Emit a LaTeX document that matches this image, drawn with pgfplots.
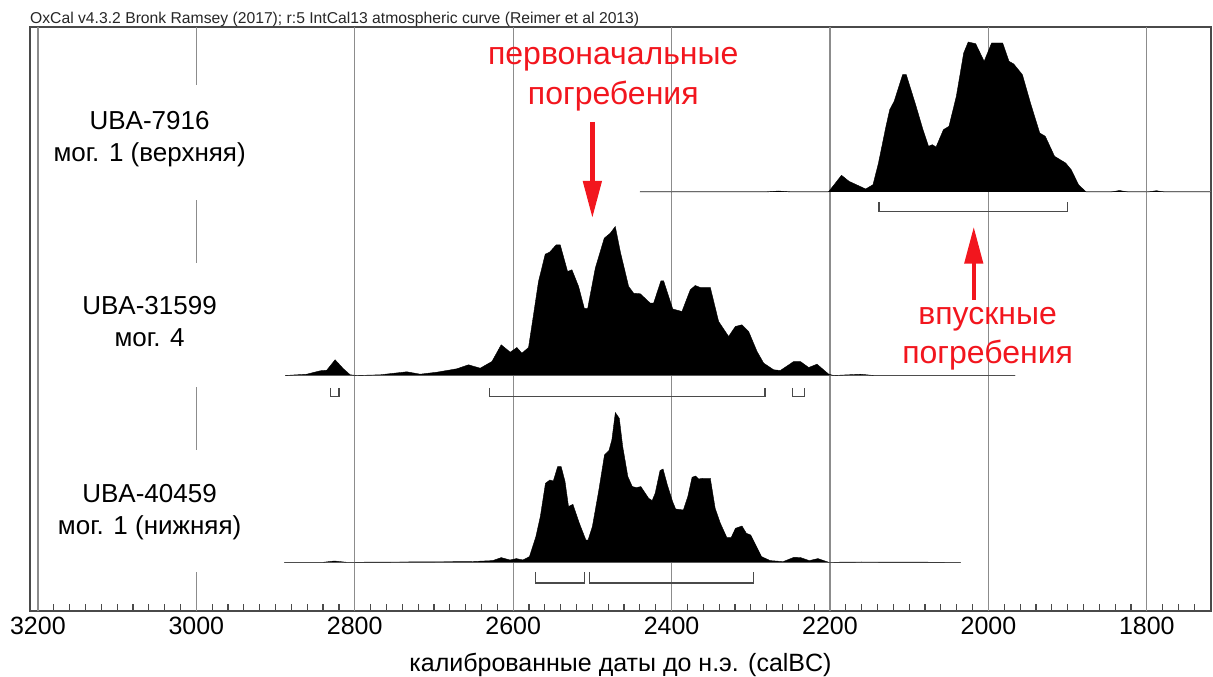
\documentclass[border=0pt]{standalone}
\usepackage{fontspec}
\setmainfont{Liberation Sans}
\usepackage{pgfplots}
\pgfplotsset{compat=1.18}
\usepackage{pgfplotstable}
\usetikzlibrary{arrows.meta}
\definecolor{gridc}{HTML}{8C8C8C}
\definecolor{framec}{HTML}{4A4A4A}
\definecolor{redc}{HTML}{F2161E}
\newcommand\fs[1]{\fontsize{#1}{#1}\selectfont}

% UBA-7916 (height above baseline, px units)
\pgfplotstableread{
yr h
2440 0
2280 0
2265 1
2250 0
2202 0
2185.5 16.7
2176 10.7
2155 3
2145.7 7.3
2138.8 29
2129.3 65.7
2124.6 82.3
2119 90.7
2108.3 117.3
2103.7 117.3
2091.9 87.3
2082.6 62.3
2075.6 45.7
2070.8 47.3
2066.1 45
2056.8 62.3
2049.8 65.7
2040.5 95.7
2031.2 139
2025.5 150
2016.1 148.3
2005.4 130.7
1996 149
1982 149
1974 130.7
1968 128
1957.1 117.3
1946.9 89
1935.2 59
1928.2 55.7
1916.5 35.7
1902.5 29
1895.5 22.3
1886.2 7.3
1876.7 0
1845 0
1834.6 1.5
1824 0
1798 0
1788 1.3
1778 0
1719 0
}\rowA

% UBA-31599
\pgfplotstableread{
yr h
2887.9 0
2860.5 1.3
2843.7 4.7
2835.3 5.3
2824.8 15.7
2814.3 6.7
2805.8 0.7
2797.4 0
2767.9 0.7
2734.2 3.7
2717.4 1.3
2696.3 3.3
2671.1 6.7
2656.4 10.7
2641.6 7.3
2626.8 14
2615.1 30.7
2603.7 23.3
2595.3 28
2589 22.3
2580.6 28
2574.3 60.7
2568 94
2559.5 121.3
2554 123.3
2545.6 130.7
2540.6 130.7
2531.3 104
2525.8 105.7
2517.4 89
2510.2 67.3
2506 66.7
2496.3 107.3
2485 137.3
2477.4 142.3
2471.1 149
2464.8 124
2454.2 89
2447.9 82.3
2439.5 81.7
2426.9 72.3
2422.7 72.3
2413.4 94.7
2410.1 94.7
2398.5 66.5
2386.9 64
2376.4 85.7
2370.1 90
2363.7 88
2351.1 88
2340.6 54
2328 39
2319.5 49
2311.1 50.7
2302.7 44
2292.1 24
2283.7 12.3
2271.1 5.7
2262.7 5
2245.8 14
2237.4 14
2226.9 8
2216.4 11.3
2201.6 1.3
2195.3 0
2161.6 1.3
2144.8 0
1966 0
}\rowB

% UBA-40459
\pgfplotstableread{
yr h
2888.8 0
2840 0
2825.8 1.3
2810 0
2653.4 0.7
2625.9 1.7
2615 4.7
2604 2.3
2595.9 3.7
2587.7 2.3
2579.4 5.7
2571.3 25.7
2565.7 45.7
2559.2 79
2553.7 82.3
2549.3 81.3
2543.8 95.7
2539.4 95.7
2534.5 80.7
2530.1 55.7
2524.6 58
2516.4 39
2508.2 22.3
2505.4 22.3
2500 35.7
2491.8 72.3
2484.7 107.3
2479.1 111.7
2475.4 122.3
2471 149.7
2466 144
2461.7 115.7
2455.2 85.7
2449.6 75.7
2444.2 74.7
2438.8 75.7
2428.9 64
2424.5 61.7
2420.7 69
2414.6 91.7
2410.8 93.3
2405.3 77.3
2398.7 60.7
2394.9 53.3
2385.1 52.3
2379.5 65.7
2374.1 85
2369.7 86.3
2365.9 83.3
2360.4 84
2351.1 84
2345 54
2338.4 39
2330.2 24.7
2324.8 24.7
2319.3 34
2311.1 36.3
2305.6 29
2300.1 27.3
2286.5 5.7
2275.5 1.7
2259.1 0.7
2245.5 5
2237.1 4.7
2226.2 1.7
2215.2 3.7
2201.6 0
2160.6 0.3
2035 0
}\rowC

\begin{document}
\begin{tikzpicture}
\path[use as bounding box] (-30pt,-66pt) rectangle (1183pt,611pt);
\begin{axis}[
  scale only axis, width=1181pt, height=584pt,
  x dir=reverse, xmin=1719, xmax=3210, ymin=0, ymax=584,
  ytick=\empty,
  xtick={1800,2000,...,3200},
  minor xtick={1720,1740,...,3200},
  xtick pos=left,
  tick align=inside,
  major tick length=13pt, minor tick length=7pt,
  tick style={framec, line width=1.2pt},
  axis line style={framec, line width=1.6pt},
  xticklabel style={font=\fs{25}, anchor=base, yshift=-24pt, inner sep=0pt},
  /pgf/number format/assume math mode=true,
  /pgf/number format/1000 sep={},
  clip=false,
]
% vertical grid lines
\draw[gridc, line width=1.2pt] (axis cs:1800,0) -- (axis cs:1800,584);
\draw[gridc, line width=1.2pt] (axis cs:2000,0) -- (axis cs:2000,584);
\draw[gridc, line width=1.2pt] (axis cs:2200,0) -- (axis cs:2200,584);
\draw[gridc, line width=1.2pt] (axis cs:2400,0) -- (axis cs:2400,584);
\draw[gridc, line width=1.2pt] (axis cs:2600,0) -- (axis cs:2600,584);
\draw[gridc, line width=1.2pt] (axis cs:2800,0) -- (axis cs:2800,584);
\draw[gridc, line width=1.2pt] (axis cs:3200,0) -- (axis cs:3200,584);
\draw[gridc, line width=1.2pt] (axis cs:3000,526) -- (axis cs:3000,584)
  (axis cs:3000,348) -- (axis cs:3000,411)
  (axis cs:3000,161) -- (axis cs:3000,224)
  (axis cs:3000,0) -- (axis cs:3000,39);

% baselines
\addplot[gridc, line width=1pt] coordinates {(2440,419) (1719,419)};
\addplot[gridc, line width=1pt] coordinates {(2888,235.5) (1966,235.5)};
\addplot[gridc, line width=1pt] coordinates {(2889,48.7) (2035,48.7)};

% distributions
\addplot[fill=black, draw=black, line width=0.4pt] table[x=yr, y expr=\thisrow{h}+419] {\rowA};
\addplot[fill=black, draw=black, line width=0.4pt] table[x=yr, y expr=\thisrow{h}+235.5] {\rowB};
\addplot[fill=black, draw=black, line width=0.4pt] table[x=yr, y expr=\thisrow{h}+48.7] {\rowC};

% ranges
\addplot[framec, line width=1.3pt] coordinates {(2138,408.5) (2138,399.2) (1900,399.2) (1900,408.5)};
\addplot[framec, line width=1.3pt] coordinates {(2630,223) (2630,214.3) (2282,214.3) (2282,223)};
\addplot[framec, line width=1.3pt] coordinates {(2831,223) (2831,214.3) (2820,214.3) (2820,223)};
\addplot[framec, line width=1.3pt] coordinates {(2247.5,223) (2247.5,214.3) (2232,214.3) (2232,223)};
\addplot[framec, line width=1.3pt] coordinates {(2572,39) (2572,28) (2510,28) (2510,39)};
\addplot[framec, line width=1.3pt] coordinates {(2504,39) (2504,28) (2297,28) (2297,39)};

% row labels
\node[font=\fs{26}, anchor=base] at (axis cs:3059,481) {UBA-7916};
\node[font=\fs{26}, anchor=base] at (axis cs:3059,449.3) {мог. 1 (верхняя)};
\node[font=\fs{26}, anchor=base] at (axis cs:3059,296) {UBA-31599};
\node[font=\fs{26}, anchor=base] at (axis cs:3059,264.3) {мог. 4};
\node[font=\fs{26}, anchor=base] at (axis cs:3059,108) {UBA-40459};
\node[font=\fs{26}, anchor=base] at (axis cs:3059,76.3) {мог. 1 (нижняя)};

% red annotations
\node[font=\fs{32}, text=redc, anchor=base] at (axis cs:2473.6,546) {первоначальные};
\node[font=\fs{32}, text=redc, anchor=base] at (axis cs:2473.6,506) {погребения};
\draw[redc, line width=4.5pt, -{Triangle[length=37pt,width=18pt]}] (axis cs:2500,489) -- (axis cs:2500,393);
\node[font=\fs{32}, text=redc, anchor=base] at (axis cs:2001,286) {впускные};
\node[font=\fs{32}, text=redc, anchor=base] at (axis cs:2001,247.7) {погребения};
\draw[redc, line width=4.5pt, -{Triangle[length=37pt,width=18pt]}] (axis cs:2018.5,311) -- (axis cs:2018.5,384.3);

% title and axis label
\node[font=\fs{15.7}, anchor=base west, inner sep=0pt, text=black!85] at (axis cs:3210,587.7) {OxCal v4.3.2 Bronk Ramsey (2017); r:5 IntCal13 atmospheric curve (Reimer et al 2013)};
\node[font=\fs{25}, anchor=base] at (axis cs:2464.5,-61) {калиброванные даты до н.э. (calBC)};
\end{axis}
\end{tikzpicture}
\end{document}
